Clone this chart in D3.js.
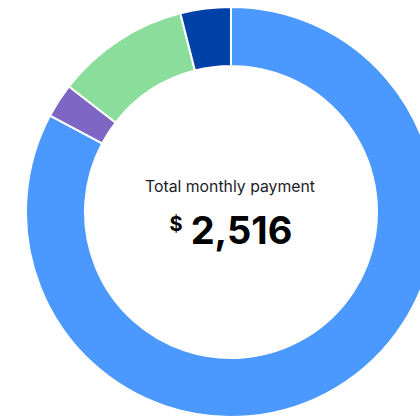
<!DOCTYPE html>
<html>
<head>
<meta charset="utf-8">
<script src="https://cdn.jsdelivr.net/npm/d3@7"></script>
<style>
  body { margin: 0; background: #fff; }
  svg { display: block; }
</style>
</head>
<body>
<main></main>
<script>
const svgWidth = 420,
  svgHeight = 418;

// monthly payment parts, clockwise from 12 o'clock
const categories = ["Principal & interest", "Property tax", "Home insurance", "HOA fees"];
const values = [2083, 68, 265, 100];
const colors = ["#4b98fe", "#7d66c4", "#8bdd9b", "#0041a8"];
const totalLabel = "Total monthly payment";

const cx = 231,
  cy = 212,
  outerR = 205,
  innerR = 146;

const svgContainer = d3
  .select("main")
  .append("svg")
  .attr("width", svgWidth)
  .attr("height", svgHeight);

const g = svgContainer.append("g").attr("transform", `translate(${cx},${cy})`);

const pie = d3.pie().sort(null).value(d => d.value);
const arc = d3.arc().innerRadius(innerR).outerRadius(outerR);

const data = categories.map((c, i) => ({ name: c, value: values[i], color: colors[i] }));

g.selectAll("path")
  .data(pie(data))
  .join("path")
  .attr("d", arc)
  .attr("fill", d => d.data.color)
  .attr("stroke", "#fff")
  .attr("stroke-width", 2);

const total = d3.sum(values);

g.append("text")
  .attr("x", -1)
  .attr("y", -20)
  .attr("text-anchor", "middle")
  .attr("font-family", "Inter, 'Noto Sans', sans-serif")
  .attr("font-size", 15.8)
  .attr("fill", "#1c1c28")
  .text(totalLabel);

const amount = g.append("text")
  .attr("x", 0)
  .attr("y", 32)
  .attr("text-anchor", "middle")
  .attr("font-family", "Inter, 'Liberation Sans', sans-serif")
  .attr("fill", "#000");
amount.append("tspan")
  .attr("font-size", 20)
  .attr("font-weight", 700)
  .attr("dy", -13)
  .text("$");
amount.append("tspan")
  .attr("font-size", 38)
  .attr("font-weight", 700)
  .attr("dx", 8)
  .attr("dy", 13)
  .text(d3.format(",")(total));
</script>
</body>
</html>
